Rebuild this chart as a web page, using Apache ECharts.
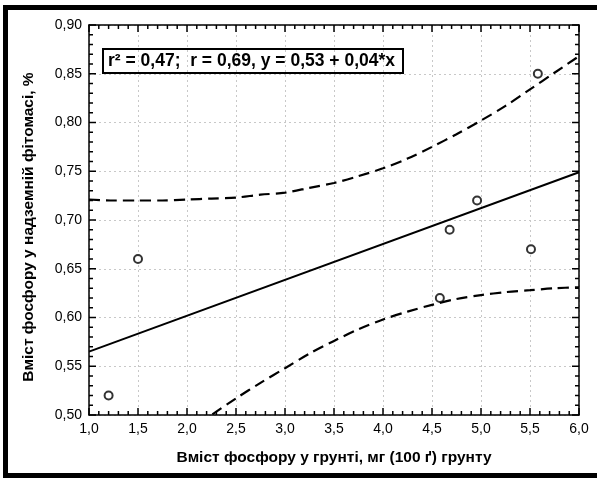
<!DOCTYPE html>
<html>
<head>
<meta charset="utf-8">
<script src="https://cdn.jsdelivr.net/npm/echarts@6/dist/echarts.min.js"></script>
<style>
html,body{margin:0;padding:0;background:#fff;}
#chart{width:597px;height:479px;}
</style>
</head>
<body>
<div id="chart"></div>
<script>
const soilP = [1.2, 1.5, 4.58, 4.68, 4.96, 5.51, 5.58];
const plantP = [0.52, 0.66, 0.62, 0.69, 0.72, 0.67, 0.85];
// Regression line end points
const fitX = [1.0, 6.0];
const fitY = [0.565, 0.749];
// Confidence band curves
const bandX = [1.0, 1.25, 1.5, 1.75, 2.0, 2.25, 2.5, 2.75, 3.0, 3.25, 3.5, 3.75, 4.0, 4.25, 4.5, 4.75, 5.0, 5.25, 5.5, 5.75, 6.0];
const upperBand = [0.721, 0.720, 0.720, 0.720, 0.721, 0.722, 0.723, 0.726, 0.728, 0.733, 0.738, 0.745, 0.753, 0.763, 0.775, 0.788, 0.802, 0.817, 0.834, 0.851, 0.868];
const lowerBand = [0.408, 0.427, 0.446, 0.464, 0.482, 0.500, 0.517, 0.533, 0.548, 0.563, 0.576, 0.588, 0.598, 0.606, 0.613, 0.619, 0.623, 0.626, 0.628, 0.630, 0.631];

// Axis ranges / tick steps
const xRange = [1, 6], xMajorStep = 0.5, xMinorPerMajor = 5;
const yRange = [0.5, 0.9], yMajorStep = 0.05, yMinorPerMajor = 5;

const statsText = 'r² = 0,47;  r = 0,69, y = 0,53 + 0,04*x';
const xTitle = 'Вміст фосфору у грунті, мг (100 ґ) грунту';
const yTitle = 'Вміст фосфору у надземній фітомасі, %';

const FONT = "'Liberation Sans', Arial, sans-serif";
const zip = (a, b) => a.map((v, i) => [v, b[i]]);
const comma = (d) => (v) => v.toFixed(d).replace('.', ',');

function axisParts() {
  return {
    axisLine: { show: true, lineStyle: { color: '#000', width: 1.5 } },
    axisTick: { show: false },
    minorTick: { show: false }
  };
}
const gridLine = { show: true, lineStyle: { color: '#c8c8c8', type: [2, 3], width: 1 } };

const baseGraphics = [
  { type: 'rect', shape: { x: 3, y: 5, width: 594, height: 5 }, style: { fill: '#000' } },
  { type: 'rect', shape: { x: 3, y: 5, width: 5, height: 473 }, style: { fill: '#000' } },
  { type: 'rect', shape: { x: 3, y: 473, width: 594, height: 5 }, style: { fill: '#000' } },
  {
    type: 'text', x: 29, y: 227, rotation: Math.PI / 2,
    style: {
      text: yTitle, fontFamily: FONT, fontWeight: 'bold', fontSize: 15.5, fill: '#000',
      align: 'center', verticalAlign: 'middle'
    }
  }
];

const chart = echarts.init(document.getElementById('chart'));
chart.setOption({
  animation: false,
  backgroundColor: '#fff',
  grid: { left: 89, top: 25, right: 18, bottom: 64, outerBoundsMode: 'none' },
  title: {
    text: statsText,
    left: 103, top: 49,
    borderColor: '#000', borderWidth: 2,
    padding: [3, 8, 3, 5],
    textStyle: { fontFamily: FONT, fontWeight: 'bold', fontSize: 17.5, color: '#000', lineHeight: 18 }
  },
  xAxis: [
    Object.assign({
      type: 'value', min: xRange[0], max: xRange[1], interval: xMajorStep,
      position: 'bottom',
      splitLine: gridLine,
      axisLabel: { formatter: comma(1), fontFamily: FONT, fontSize: 14, color: '#000', margin: 7 },
      name: xTitle, nameLocation: 'middle', nameGap: 35,
      nameTextStyle: { fontFamily: FONT, fontWeight: 'bold', fontSize: 15.5, color: '#000' }
    }, axisParts()),
    Object.assign({
      type: 'value', min: xRange[0], max: xRange[1], interval: xMajorStep,
      position: 'top', axisLabel: { show: false }, splitLine: { show: false }
    }, axisParts())
  ],
  yAxis: [
    Object.assign({
      type: 'value', min: yRange[0], max: yRange[1], interval: yMajorStep,
      position: 'left',
      splitLine: gridLine,
      axisLabel: { formatter: comma(2), fontFamily: FONT, fontSize: 14, color: '#000', margin: 7 }
    }, axisParts()),
    Object.assign({
      type: 'value', min: yRange[0], max: yRange[1], interval: yMajorStep,
      position: 'right', axisLabel: { show: false }, splitLine: { show: false }
    }, axisParts())
  ],
  series: [
    {
      type: 'line', data: zip(bandX, upperBand), smooth: 0.3, showSymbol: false, clip: true,
      lineStyle: { color: '#000', width: 2.2, type: [11, 6] }, z: 3
    },
    {
      type: 'line', data: zip(bandX, lowerBand), smooth: 0.3, showSymbol: false, clip: true,
      lineStyle: { color: '#000', width: 2.2, type: [11, 6] }, z: 3
    },
    {
      type: 'line', data: zip(fitX, fitY), showSymbol: false, clip: true,
      lineStyle: { color: '#000', width: 2 }, z: 3
    },
    {
      type: 'scatter', data: zip(soilP, plantP), symbol: 'circle', symbolSize: 8,
      itemStyle: { color: '#fff', borderColor: '#000', borderWidth: 2 }, z: 5
    }
  ],
  graphic: baseGraphics
});

// Tick marks on all four sides, placed through the axes' own scales
(function addTicks() {
  const xp = (v) => chart.convertToPixel({ xAxisIndex: 0 }, v);
  const yp = (v) => chart.convertToPixel({ yAxisIndex: 0 }, v);
  const left = xp(xRange[0]), right = xp(xRange[1]);
  const top = yp(yRange[1]), bottom = yp(yRange[0]);
  const MAJOR = 7, MINOR = 4;
  const ticks = [];
  const seg = (x1, y1, x2, y2) => ({
    type: 'line', silent: true, z: 20,
    shape: { x1, y1, x2, y2 }, style: { stroke: '#000', lineWidth: 1.5 }
  });
  const xMinorStep = xMajorStep / xMinorPerMajor;
  const nx = Math.round((xRange[1] - xRange[0]) / xMinorStep);
  for (let i = 0; i <= nx; i++) {
    const x = xp(xRange[0] + i * xMinorStep);
    const len = (i % xMinorPerMajor === 0) ? MAJOR : MINOR;
    ticks.push(seg(x, bottom, x, bottom - len));
    ticks.push(seg(x, top, x, top + len));
  }
  const yMinorStep = yMajorStep / yMinorPerMajor;
  const ny = Math.round((yRange[1] - yRange[0]) / yMinorStep);
  for (let i = 0; i <= ny; i++) {
    const y = yp(yRange[0] + i * yMinorStep);
    const len = (i % yMinorPerMajor === 0) ? MAJOR : MINOR;
    ticks.push(seg(left, y, left + len, y));
    ticks.push(seg(right, y, right - len, y));
  }
  chart.setOption({ graphic: baseGraphics.concat(ticks) });
})();
</script>
</body>
</html>
